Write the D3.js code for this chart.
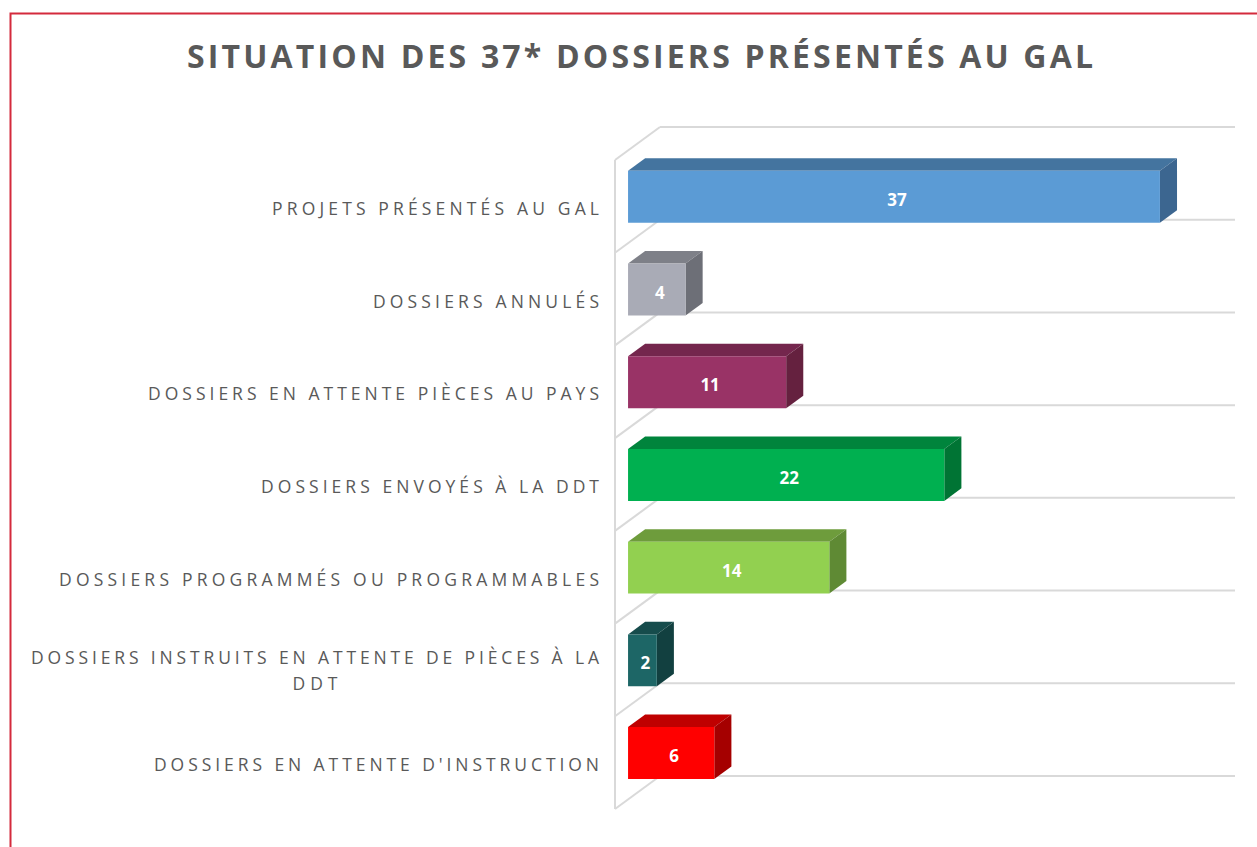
<!DOCTYPE html>
<html>
<head>
<meta charset="utf-8">
<script src="https://cdn.jsdelivr.net/npm/d3@7"></script>
<style>
  body { margin: 0; background: #fff; }
  svg { display: block; }
</style>
</head>
<body>
<div id="chart"></div>
<script>
// data
const categories = [
  "PROJETS PRÉSENTÉS AU GAL",
  "DOSSIERS ANNULÉS",
  "DOSSIERS EN ATTENTE PIÈCES AU PAYS",
  "DOSSIERS ENVOYÉS À LA DDT",
  "DOSSIERS PROGRAMMÉS OU PROGRAMMABLES",
  "DOSSIERS INSTRUITS EN ATTENTE DE PIÈCES À LA DDT",
  "DOSSIERS EN ATTENTE D'INSTRUCTION"
];
const labelLines = [
  ["PROJETS PRÉSENTÉS AU GAL"],
  ["DOSSIERS ANNULÉS"],
  ["DOSSIERS EN ATTENTE PIÈCES AU PAYS"],
  ["DOSSIERS ENVOYÉS À LA DDT"],
  ["DOSSIERS PROGRAMMÉS OU PROGRAMMABLES"],
  ["DOSSIERS INSTRUITS EN ATTENTE DE PIÈCES À LA", "DDT"],
  ["DOSSIERS EN ATTENTE D'INSTRUCTION"]
];
const values = [37, 4, 11, 22, 14, 2, 6];
const frontColors = ["#5b9bd5", "#a9abb6", "#993366", "#00b050", "#92d050", "#1d6666", "#ff0000"];
const topColors   = ["#44749f", "#7e8088", "#74264d", "#00843c", "#6e9c3c", "#164c4c", "#bf0000"];
const sideColors  = ["#3c6690", "#6d6f77", "#65213f", "#007434", "#5f8a34", "#124040", "#a50000"];
const title = "SITUATION DES 37* DOSSIERS PRÉSENTÉS AU GAL";

const W = 1257, H = 847;
const svg = d3.select("#chart").append("svg").attr("width", W).attr("height", H);

// chart border
svg.append("rect")
  .attr("x", 10.5).attr("y", 13.5)
  .attr("width", 1270).attr("height", 860)
  .attr("fill", "none").attr("stroke", "#d42a3c").attr("stroke-width", 2);

svg.append("text")
  .attr("x", 640).attr("y", 68)
  .attr("text-anchor", "middle")
  .attr("font-family", "Open Sans, sans-serif")
  .attr("font-weight", "bold")
  .attr("font-size", 32)
  .attr("fill", "#595959")
  .attr("textLength", 906).attr("lengthAdjust", "spacing")
  .text(title);

// 3d geometry: back wall + depth offset
const backLeft = 660, DX = 45, DY = 33;
const d0 = 0.29, d1 = 0.67;   // bar depth (fraction from front)

const x = d3.scaleLinear().domain([0, 40]).range([0, 575]);
const yBand = d3.scaleBand().domain(categories).range([127, 776]);
const yBar = d3.scaleBand().domain(categories).range([127, 776]).paddingInner(0.44).paddingOuter(0.22);

function proj(v, yv, d) {
  return [backLeft + x(v) - DX * (1 - d), yv + DY * (1 - d)];
}

// grid lines
const bounds = categories.map(c => yBand(c)).concat([yBand.range()[1]]);
const grid = svg.append("g").attr("stroke", "#d9d9d9").attr("stroke-width", 2).attr("fill", "none");
bounds.forEach(b => {
  grid.append("line").attr("x1", backLeft).attr("x2", backLeft + x(40)).attr("y1", b).attr("y2", b);
  grid.append("line").attr("x1", backLeft - DX).attr("y1", b + DY).attr("x2", backLeft).attr("y2", b);
});
grid.append("line")
  .attr("x1", backLeft - DX).attr("x2", backLeft - DX)
  .attr("y1", bounds[0] + DY).attr("y2", bounds[bounds.length - 1] + DY);

// bars
const bars = svg.append("g");
categories.forEach((c, i) => {
  const v = values[i];
  const t = yBar(c), b = t + yBar.bandwidth();
  const poly = pts => pts.map(p => p.join(",")).join(" ");
  const g = bars.append("g");
  g.append("polygon")
    .attr("points", poly([proj(0, t, d0), proj(v, t, d0), proj(v, t, d1), proj(0, t, d1)]))
    .attr("fill", topColors[i]);
  g.append("polygon")
    .attr("points", poly([proj(v, t, d0), proj(v, b, d0), proj(v, b, d1), proj(v, t, d1)]))
    .attr("fill", sideColors[i]);
  g.append("polygon")
    .attr("points", poly([proj(0, t, d0), proj(v, t, d0), proj(v, b, d0), proj(0, b, d0)]))
    .attr("fill", frontColors[i]);
  const p0 = proj(0, (t + b) / 2, d0), p1 = proj(v, (t + b) / 2, d0);
  g.append("text")
    .attr("x", (p0[0] + p1[0]) / 2 + 3).attr("y", p0[1] + 9)
    .attr("text-anchor", "middle")
    .attr("font-family", "Open Sans, sans-serif")
    .attr("font-weight", "bold")
    .attr("font-size", 17)
    .attr("fill", "#fff")
    .text(v);
});

// category labels
const labelWidths = [[327], [226], [451], [338], [540], [568, 45], [445]];
const labels = svg.append("g")
  .attr("font-family", "Open Sans, sans-serif")
  .attr("font-size", 17.5)
  .attr("fill", "#595959");
categories.forEach((c, i) => {
  const cy = yBand(c) + yBand.bandwidth() / 2 + DY;
  const lines = labelLines[i];
  if (lines.length === 1) {
    labels.append("text")
      .attr("x", 599).attr("y", cy + 8.5)
      .attr("text-anchor", "end")
      .attr("textLength", labelWidths[i][0]).attr("lengthAdjust", "spacing")
      .text(lines[0]);
  } else {
    const cx = 599 - labelWidths[i][0] / 2;
    lines.forEach((ln, j) => {
      labels.append("text")
        .attr("x", cx).attr("y", cy - 5.5 + j * 26)
        .attr("text-anchor", "middle")
        .attr("textLength", labelWidths[i][j]).attr("lengthAdjust", "spacing")
        .text(ln);
    });
  }
});
</script>
</body>
</html>
